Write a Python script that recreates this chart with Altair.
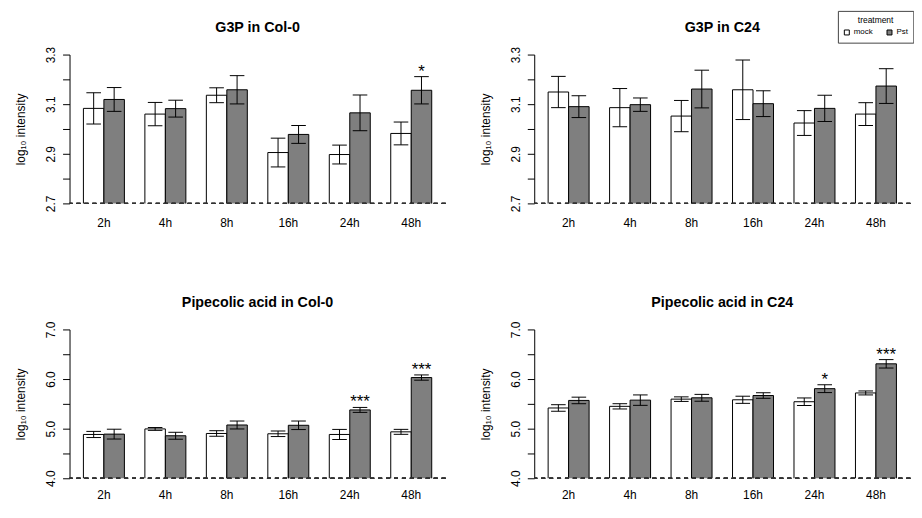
import altair as alt
import pandas as pd

times = ["2h", "4h", "8h", "16h", "24h", "48h"]
treatments = ["mock", "Pst"]

# G3P in Col-0
g3p_col0_mock = [3.083, 3.060, 3.136, 2.905, 2.897, 2.982]
g3p_col0_mock_err = [0.063, 0.047, 0.030, 0.058, 0.038, 0.046]
g3p_col0_pst = [3.119, 3.082, 3.158, 2.978, 3.065, 3.156]
g3p_col0_pst_err = [0.048, 0.034, 0.057, 0.036, 0.072, 0.055]
g3p_col0_sig = ["", "", "", "", "", "*"]

# G3P in C24
g3p_c24_mock = [3.149, 3.086, 3.052, 3.158, 3.024, 3.060]
g3p_c24_mock_err = [0.063, 0.077, 0.063, 0.120, 0.050, 0.046]
g3p_c24_pst = [3.090, 3.098, 3.161, 3.102, 3.083, 3.173]
g3p_c24_pst_err = [0.044, 0.027, 0.076, 0.052, 0.053, 0.070]
g3p_c24_sig = ["", "", "", "", "", ""]

# Pipecolic acid in Col-0
pip_col0_mock = [4.883, 4.995, 4.903, 4.897, 4.883, 4.936]
pip_col0_mock_err = [0.062, 0.029, 0.056, 0.056, 0.102, 0.050]
pip_col0_pst = [4.890, 4.857, 5.074, 5.068, 5.378, 6.030]
pip_col0_pst_err = [0.099, 0.070, 0.080, 0.086, 0.050, 0.053]
pip_col0_sig = ["", "", "", "", "***", "***"]

# Pipecolic acid in C24
pip_c24_mock = [5.417, 5.450, 5.595, 5.582, 5.543, 5.720]
pip_c24_mock_err = [0.066, 0.053, 0.046, 0.072, 0.076, 0.040]
pip_c24_pst = [5.569, 5.575, 5.622, 5.668, 5.806, 6.307]
pip_c24_pst_err = [0.066, 0.105, 0.069, 0.056, 0.079, 0.085]
pip_c24_sig = ["", "", "", "", "*", "***"]

g3p_ticks = [2.7, 2.8, 2.9, 3.0, 3.1, 3.2, 3.3]
pip_ticks = [4.0, 4.5, 5.0, 5.5, 6.0, 6.5, 7.0]

FONT = "Liberation Sans"
W, H = 379, 150


def make_df(mock, mock_err, pst, pst_err, sig):
    rows = []
    for i, t in enumerate(times):
        rows.append(dict(time=t, treatment="mock", value=mock[i],
                         lo=mock[i] - mock_err[i], hi=mock[i] + mock_err[i], sig=""))
        rows.append(dict(time=t, treatment="Pst", value=pst[i],
                         lo=pst[i] - pst_err[i], hi=pst[i] + pst_err[i], sig=sig[i]))
    return pd.DataFrame(rows)


def panel(df, title, ticks, label_expr, lab_pad):
    ymin, ymax = ticks[0], ticks[-1]
    base = alt.Chart(df)
    xscale = alt.Scale(paddingInner=1 / 3, paddingOuter=0.226)
    xoff = alt.XOffset("treatment:N", sort=treatments,
                       scale=alt.Scale(paddingInner=0, paddingOuter=0))
    yscale = alt.Scale(domain=[ymin, ymax], nice=False, zero=False)
    xaxis = alt.Axis(domain=False, ticks=False, labelAngle=0, labelPadding=lab_pad,
                     labelBaseline="alphabetic", labelFontSize=12, labelColor="black",
                     labelFont=FONT, title=None)
    yaxis = alt.Axis(values=ticks, format=".1f", labelExpr=label_expr,
                     title="log₁₀ intensity", titleFontSize=12, titleFontWeight="normal",
                     titleColor="black", titleFont=FONT, titleAngle=270,
                     titleX=-45, titleY=H / 2, titleAlign="center",
                     titleBaseline="alphabetic",
                     tickSize=7, tickColor="black", domainColor="black",
                     labelAngle=270, labelAlign="center", labelBaseline="alphabetic",
                     labelPadding=8, labelFontSize=12, labelColor="black",
                     labelFont=FONT, grid=False)
    legend = alt.Legend(orient="none", legendX=774.3, legendY=-44,
                        direction="horizontal", title="treatment",
                        titleOrient="top", titleAnchor="middle", titleFontSize=8.5,
                        titleFontWeight="normal", titleColor="black", titleFont=FONT,
                        titlePadding=4,
                        labelFontSize=8, labelColor="black", labelFont=FONT,
                        symbolType="square", symbolSize=25, symbolStrokeColor="black",
                        symbolStrokeWidth=1, strokeColor="#444", padding=5,
                        columnPadding=11, labelOffset=3)

    X = alt.X("time:N", sort=times, title=None, scale=xscale, axis=xaxis)
    Y = lambda f: alt.Y(f, scale=yscale, axis=yaxis, title="log₁₀ intensity")

    bars = base.mark_bar(stroke="black", strokeWidth=1, clip=True).encode(
        x=X, xOffset=xoff, y=Y("value:Q"),
        y2=alt.datum(ymin - 0.02 * (ymax - ymin)),
        fill=alt.Fill("treatment:N", scale=alt.Scale(domain=treatments,
                                                     range=["white", "#7f7f7f"]),
                      legend=legend),
    )
    dash = base.mark_rule(strokeDash=[4, 4], color="#333", strokeWidth=0.9).encode(
        y=alt.datum(ymin, scale=yscale, axis=yaxis, title="log₁₀ intensity"))
    err = base.mark_rule(color="black", strokeWidth=1).encode(
        x=X, xOffset=xoff, y=Y("lo:Q"), y2="hi:Q")
    cap_lo = base.mark_tick(orient="horizontal", color="black", thickness=1,
                            size=14.7, opacity=1).encode(
        x=X, xOffset=xoff, y=Y("lo:Q"))
    cap_hi = base.mark_tick(orient="horizontal", color="black", thickness=1,
                            size=14.7, opacity=1).encode(
        x=X, xOffset=xoff, y=Y("hi:Q"))
    stars = base.mark_text(fontSize=17, baseline="alphabetic", align="center",
                           dy=0, color="black", font=FONT).encode(
        x=X, xOffset=xoff, y=Y("hi:Q"), text="sig:N")
    return alt.layer(bars, dash, err, cap_lo, cap_hi, stars).properties(
        width=W, height=H,
        title=alt.TitleParams(title, fontSize=14.4, fontWeight="bold", anchor="middle",
                              frame="group", baseline="alphabetic", offset=0,
                              color="black", font=FONT))


g3p_expr = "round(datum.value*10) % 2 == 1 ? datum.label : ''"
pip_expr = "round(datum.value*2) % 2 == 0 ? datum.label : ''"

p1 = panel(make_df(g3p_col0_mock, g3p_col0_mock_err, g3p_col0_pst, g3p_col0_pst_err,
                   g3p_col0_sig), "G3P in Col-0", g3p_ticks, g3p_expr, 23)
p2 = panel(make_df(g3p_c24_mock, g3p_c24_mock_err, g3p_c24_pst, g3p_c24_pst_err,
                   g3p_c24_sig), "G3P in C24", g3p_ticks, g3p_expr, 23)
p3 = panel(make_df(pip_col0_mock, pip_col0_mock_err, pip_col0_pst, pip_col0_pst_err,
                   pip_col0_sig), "Pipecolic acid in Col-0", pip_ticks, pip_expr, 20)
p4 = panel(make_df(pip_c24_mock, pip_c24_mock_err, pip_c24_pst, pip_c24_pst_err,
                   pip_c24_sig), "Pipecolic acid in C24", pip_ticks, pip_expr, 20)

chart = alt.concat(p1, p2, p3, p4, columns=2,
                   spacing={"row": 127, "column": 89.3}, bounds="flush").properties(
    padding={"left": 6, "top": 0, "right": 0, "bottom": 0}
).configure(font=FONT).configure_view(stroke="transparent").resolve_scale(
    y="independent", x="independent")

chart.save("out.html", embed_options={"renderer": "svg", "actions": False})
